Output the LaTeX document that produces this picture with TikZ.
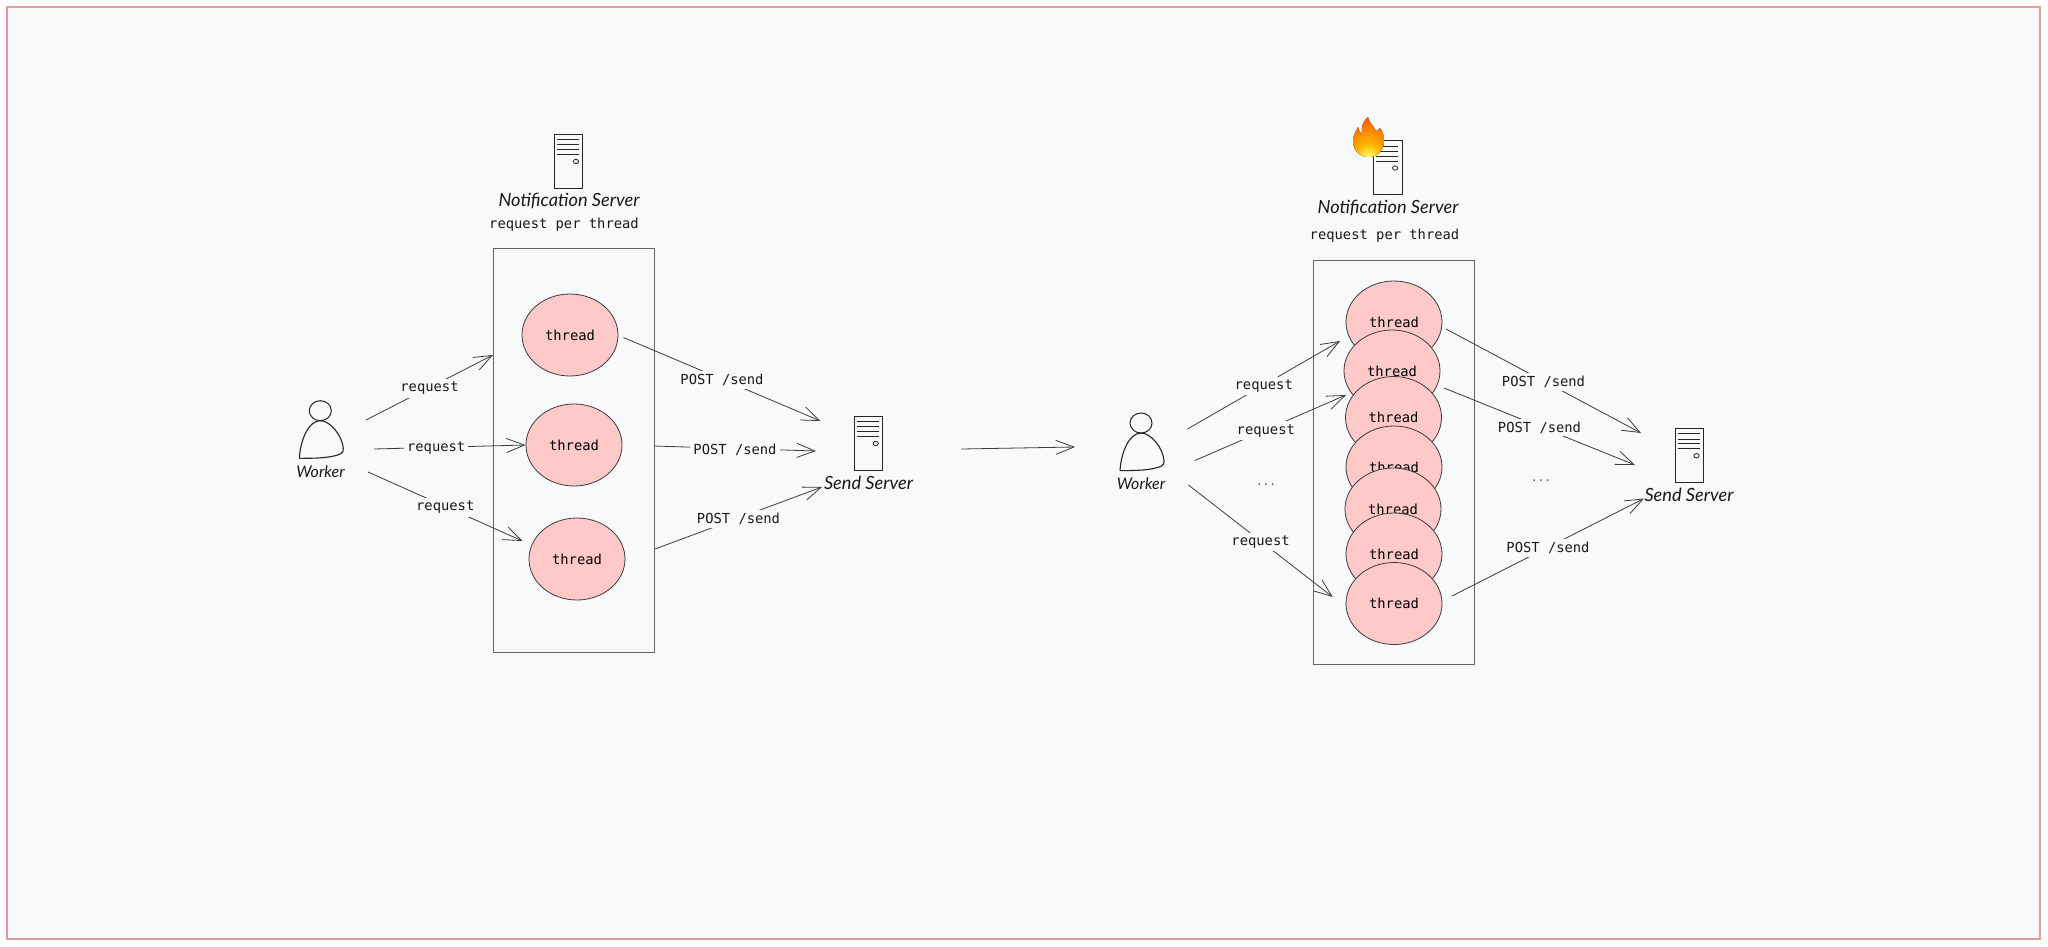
\documentclass[tikz,border=0pt]{standalone}
\usepackage{fontspec}
\setmainfont{DejaVu Sans Mono}
\newfontfamily\handfont{Lato}
\usetikzlibrary{shapes.geometric, arrows.meta}
\definecolor{pagebg}{HTML}{F8F9FB}
\definecolor{edgered}{HTML}{E39A9C}
\definecolor{threadred}{HTML}{FFC9C9}
\definecolor{inkgrey}{HTML}{3C3C3C}
\pgfdeclareradialshading{flameglow}{\pgfpoint{0bp}{-36bp}}{color(0bp)=(yellow!12!white); color(8bp)=(yellow!55!white); color(20bp)=(orange!55!yellow); color(38bp)=(orange!90!red); color(58bp)=(red!55!orange); color(100bp)=(red!75!orange)}
\tikzstyle{thread} = [ellipse, minimum width=96pt, minimum height=82pt, inner sep=0pt, text centered, draw=inkgrey, line width=0.8pt, fill=threadred, font=\fontsize{13.8}{16}\selectfont]
\tikzstyle{poolbox} = [rectangle, minimum width=161pt, minimum height=404pt, inner sep=0pt, draw=inkgrey!80, line width=0.9pt]
\tikzstyle{serverbox} = [rectangle, minimum width=28.5pt, minimum height=54pt, inner sep=0pt, draw=black!85, line width=1pt, fill=pagebg]
\tikzstyle{head} = [ellipse, minimum width=22pt, minimum height=20pt, inner sep=0pt, draw=black!85, line width=1pt]
\tikzstyle{plain} = [font=\fontsize{13.8}{16}\selectfont, text=black!90, inner sep=1.5pt]
\tikzstyle{hand} = [font=\handfont\itshape\fontsize{18.2}{20}\selectfont, text=black!90, inner sep=1pt]
\tikzstyle{handshort} = [hand, font=\handfont\itshape\fontsize{16}{18}\selectfont]
\tikzstyle{dots} = [font=\fontsize{11}{13}\selectfont, text=black!70, inner sep=1pt]
\tikzstyle{arrowlabel} = [plain, fill=pagebg, inner sep=3pt, yshift=-1pt]
\tikzstyle{arrow} = [line width=0.8pt, draw=inkgrey, -{Straight Barb[length=18pt,width=14pt]}]
\newcommand{\serverdetail}[1]{
  \foreach \dy in {6,11.4,16,21}
    \draw [line width=1pt, black!85] ([shift={(3,\dy)}]#1.north west) -- ++(22,0);
  \draw [line width=0.8pt, black!85] ([shift={(22,28)}]#1.north west) ellipse (2.6 and 2.2);
}
\newcommand{\workerbody}[1]{
  \begin{scope}[shift={(#1.center)}]
    \draw [line width=1.1pt, black!85] (-21,47.6) .. controls (-20,30) and (-12,10) .. (0,10)
      .. controls (10,10) and (22,25) .. (23,37.6)
      .. controls (23.5,43) and (20,44) .. (10,46)
      .. controls (0,47.6) and (-10,47.6) .. (-21,47.6);
  \end{scope}
}
\begin{document}
\begin{tikzpicture}[x=1pt, y=-1pt]
  \useasboundingbox (0,0) rectangle (2048,946);
  \fill [white] (0,0) rectangle (2048,946);
  \draw [edgered, line width=1.2pt, fill=pagebg] (7,7) rectangle (2040,939);

  % before
  \node (serverA) [serverbox] at (568.7,161) {};
  \serverdetail{serverA}
  \node (serverAname) [hand] at (569,201) {Notification Server};
  \node (poolAname) [plain] at (564,224.5) {request per thread};
  \node (poolA) [poolbox] at (573.5,450) {};
  \node (threadA1) [thread] at (570,335) {thread};
  \node (threadA2) [thread] at (574,445) {thread};
  \node (threadA3) [thread] at (577,559) {thread};

  \node (headA) [head] at (320.3,410.7) {};
  \workerbody{headA}
  \node (workerA) [handshort] at (320.5,472) {Worker};

  \node (sendA) [serverbox] at (868.5,443) {};
  \serverdetail{sendA}
  \node (sendAname) [hand] at (868.5,482.5) {Send Server};

  \draw [arrow] ([shift={(45.5,-52)}]workerA.center) -- node[arrowlabel] {request} ([shift={(-80.5,-95)}]poolA.center);
  \draw [arrow] ([shift={(53.5,-23)}]workerA.center) -- node[arrowlabel, pos=0.41] {request} (threadA2.west);
  \draw [arrow] ([shift={(47.5,0)}]workerA.center) -- node[arrowlabel] {request} ([shift={(-54.5,-18)}]threadA3.center);

  \draw [arrow] ([shift={(53.5,2.5)}]threadA1.center) -- node[arrowlabel] {POST /send} ([shift={(-48,-22)}]sendA.center);
  \draw [arrow] ([shift={(80.5,-4)}]poolA.center) -- node[arrowlabel] {POST /send} ([shift={(-52.5,8)}]sendA.center);
  \draw [arrow] ([shift={(81.5,99)}]poolA.center) -- node[arrowlabel] {POST /send} ([shift={(-46.5,44)}]sendA.center);

  % step between the two states
  \coordinate (stepA) at (961,449);
  \coordinate (stepB) at (1075,447);
  \draw [arrow] (stepA) -- (stepB);

  % after
  \node (serverB) [serverbox] at (1387.8,167.5) {};
  \serverdetail{serverB}
  \fill [shading=flameglow] (1369,157) .. controls (1359,157) and (1353,150) .. (1353,141)
    .. controls (1353,135) and (1356,131) .. (1358,127) .. controls (1359,131) and (1360,133) .. (1362,134)
    .. controls (1361,127) and (1363,121) .. (1368,117) .. controls (1369,123) and (1374,126) .. (1376,131)
    .. controls (1377,131) and (1379,130) .. (1380,128) .. controls (1383,132) and (1384,136) .. (1384,141)
    .. controls (1384,150) and (1378,157) .. (1369,157);
  \node (serverBname) [hand] at (1388,208) {Notification Server};
  \node (poolBname) [plain] at (1384.5,236) {request per thread};
  \node (poolB) [poolbox] at (1393.8,462) {};
  \node (threadB1) [thread] at (1394,322) {thread};
  \node (threadB2) [thread] at (1392,371) {thread};
  \node (threadB3) [thread] at (1393.5,417.5) {thread};
  \node (threadB4) [thread] at (1394,467) {thread};
  \node (threadB5) [thread] at (1393,509) {thread};
  \node (threadB6) [thread] at (1394,554) {thread};
  \node (threadB7) [thread] at (1394,603.5) {thread};

  \node (headB) [head] at (1141,423) {};
  \workerbody{headB}
  \node (workerB) [handshort] at (1141,483.6) {Worker};

  \node (sendB) [serverbox] at (1689.25,455.25) {};
  \serverdetail{sendB}
  \node (sendBname) [hand] at (1689,495) {Send Server};

  \draw [arrow] ([shift={(46.5,-54.6)}]workerB.center) -- node[arrowlabel] {request} ([shift={(-54,19)}]threadB1.center);
  \draw [arrow] ([shift={(53.7,-23)}]workerB.center) -- node[arrowlabel, pos=0.47] {request} ([shift={(-46,24)}]threadB2.center);
  \draw [arrow] ([shift={(47.4,1.4)}]workerB.center) -- node[arrowlabel] {request} ([shift={(-61.3,-6.5)}]threadB7.center);
  \node (dotsB1) [dots] at (1266,485) {...};

  \draw [arrow] ([shift={(52,7)}]threadB1.center) -- node[arrowlabel] {POST /send} ([shift={(-48.25,-22.25)}]sendB.center);
  \draw [arrow] ([shift={(52,17)}]threadB2.center) -- node[arrowlabel] {POST /send} ([shift={(-54.25,9.75)}]sendB.center);
  \draw [arrow] ([shift={(58,-7.5)}]threadB7.center) -- node[arrowlabel] {POST /send} ([shift={(-45.25,43.25)}]sendB.center);
  \node (dotsB2) [dots] at (1541,481) {...};
\end{tikzpicture}
\end{document}
